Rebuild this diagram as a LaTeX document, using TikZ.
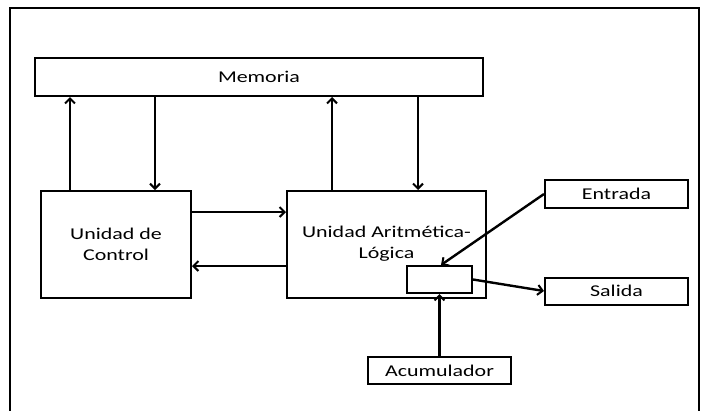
\documentclass[tikz,border=0pt]{standalone}
\usepackage{fontspec}
\newfontfamily\widefont[FakeStretch=1.33]{Carlito}
\usetikzlibrary{arrows.meta}
\begin{document}
\begin{tikzpicture}[x=1pt,y=-1pt,
  box/.style={draw,line width=2pt,minimum width=#1,inner sep=0pt,font=\widefont\fontsize{16.5}{21}\selectfont,align=center},
  arr/.style={line width=2.4pt,-{Straight Barb[length=5pt,width=10pt,line width=2pt]}}]
\useasboundingbox (0,0) rectangle (704,410);
\clip (0,0) rectangle (704,410);
\draw[line width=2pt] (10,8) rectangle (699,420);
\node[box=448pt,minimum height=38pt] (mem) at (259,77) {Memoria};
\node[box=150pt,minimum height=107pt] (ctrl) at (116,244.5) {Unidad de\\Control};
\node[box=199pt,minimum height=107pt] (alu) at (386.5,244.5) {};
\node[font=\widefont\fontsize{16.5}{21}\selectfont,align=center] (alutxt) at (386.5,244) {Unidad Aritmética-\\Lógica};
\node[box=143pt,minimum height=28pt] (ent) at (616.5,194) {Entrada};
\node[box=143pt,minimum height=27pt] (sal) at (616.5,291) {Salida};
\node[box=143pt,minimum height=27pt] (acu) at (439.5,370.5) {Acumulador};
\node[box=65pt,minimum height=27pt,fill=white] (acc) at (439.5,279.5) {};
\draw[arr] ([xshift=-46pt]ctrl.north) coordinate (c1) -- (mem.south -| c1);
\draw[arr] (mem.south -| ctrl.north) ++(39,0) coordinate (c2) -- (ctrl.north -| c2);
\draw[arr] ([xshift=-54.5pt]alu.north) coordinate (c3) -- (mem.south -| c3);
\draw[arr] (mem.south -| alu.north) ++(31.5,0) coordinate (c4) -- (alu.north -| c4);
\draw[arr] ([yshift=32.5pt]ctrl.east) coordinate (c5) -- (alu.west |- c5);
\draw[arr] ([yshift=-21.5pt]alu.west) coordinate (c6) -- (ctrl.east |- c6);
\draw[arr] (ent.west) -- ([xshift=1.5pt]acc.north);
\draw[arr] (acc.east) -- (sal.west);
\draw[arr] (acu.north) -- (acc.south);
\end{tikzpicture}
\end{document}
